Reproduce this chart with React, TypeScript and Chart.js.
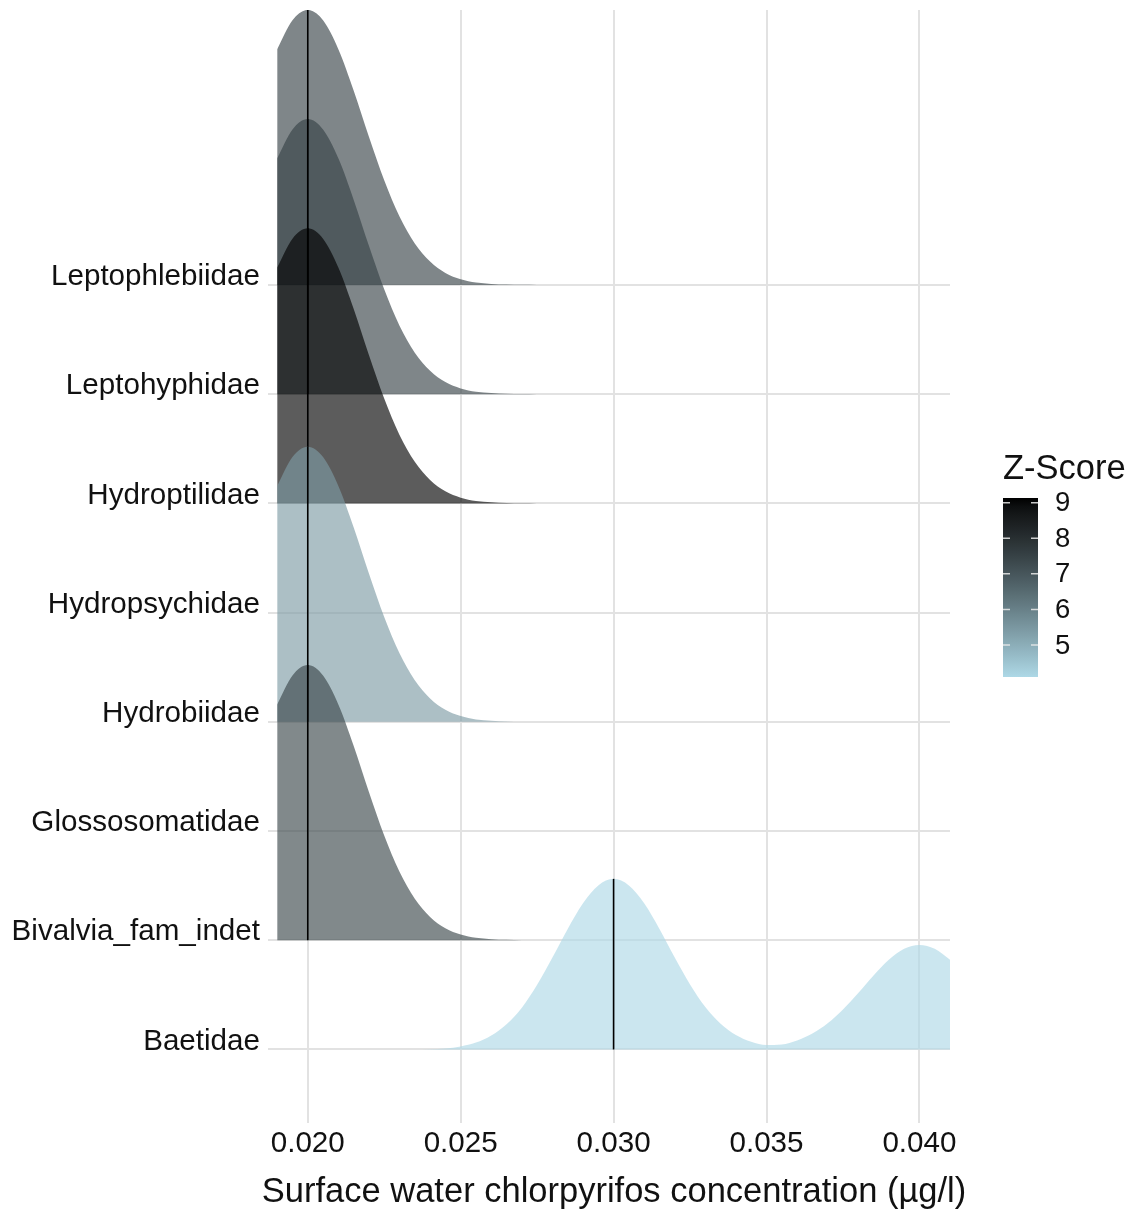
import React, { useEffect, useRef } from "react";
import { Chart, registerables } from "chart.js";

Chart.register(...registerables);

// ---------------- data ----------------
const taxa = [
  "Baetidae",
  "Bivalvia_fam_indet",
  "Glossosomatidae",
  "Hydrobiidae",
  "Hydropsychidae",
  "Hydroptilidae",
  "Leptohyphidae",
  "Leptophlebiidae",
];

// Z-score of each taxon (null = no ridge drawn)
const zScores: (number | null)[] = [4.1, 7.4, null, 5.4, null, 9.13, 7.5, 7.5];

// concentration of the median line per taxon (µg/l)
const medianConc: (number | null)[] = [0.03, 0.02, null, 0.02, null, 0.02, 0.02, 0.02];

// x positions at which the ridge heights were read (µg/l)
const concentrationGrid = [
  0.019, 0.0195, 0.02, 0.0205, 0.021, 0.0215, 0.022, 0.0225, 0.023, 0.0235,
  0.024, 0.0245, 0.025, 0.0255, 0.026, 0.0265, 0.027, 0.0275, 0.028, 0.0285,
  0.029, 0.0295, 0.03, 0.0305, 0.031, 0.0315, 0.032, 0.0325, 0.033, 0.0335,
  0.034, 0.0345, 0.035, 0.0355, 0.036, 0.0365, 0.037, 0.0375, 0.038, 0.0385,
  0.039, 0.0395, 0.04, 0.0405, 0.041,
];

// relative ridge heights (1 = tallest ridge)
const densityPeak020 = [
  0.857, 0.962, 1.0, 0.962, 0.857, 0.707, 0.539, 0.381, 0.249, 0.151,
  0.085, 0.044, 0.021, 0.009, 0.004, 0.0015, 0.0005, 0, 0, 0,
  0, 0, 0, 0, 0, 0, 0, 0, 0, 0,
  0, 0, 0, 0, 0, 0, 0, 0, 0, 0,
  0, 0, 0, 0, 0,
];

const densityBaetidae = [
  0, 0, 0, 0, 0, 0, 0, 0, 0, 0.0003,
  0.0012, 0.004, 0.011, 0.025, 0.051, 0.092, 0.152, 0.235, 0.334, 0.438,
  0.531, 0.596, 0.62, 0.596, 0.531, 0.438, 0.334, 0.236, 0.154, 0.094,
  0.053, 0.028, 0.016, 0.018, 0.033, 0.058, 0.095, 0.145, 0.205, 0.269,
  0.326, 0.366, 0.38, 0.366, 0.326,
];

const ridgeDensities: (number[] | null)[] = [
  densityBaetidae,
  densityPeak020,
  null,
  densityPeak020,
  null,
  densityPeak020,
  densityPeak020,
  densityPeak020,
];

const xTickValues = [0.02, 0.025, 0.03, 0.035, 0.04];
const legendTickValues = [5, 6, 7, 8, 9];
const xTitle = "Surface water chlorpyrifos concentration (µg/l)";
const legendTitle = "Z-Score";

// ---------------- styling ----------------
const FONT = '"Liberation Sans", Arial, Helvetica, sans-serif';
const RIDGE_SCALE = 2.52;
const ALPHA = 0.64;
const GRID = "#e2e2e2";
const TEXT = "#111111";

// colour scale: lightblue -> black, interpolated in Lab
const LOW: [number, number, number] = [173, 216, 230];
const HIGH: [number, number, number] = [0, 0, 0];

function toLin(c: number) {
  c /= 255;
  return c <= 0.04045 ? c / 12.92 : Math.pow((c + 0.055) / 1.055, 2.4);
}
function fromLin(c: number) {
  const v = c <= 0.0031308 ? 12.92 * c : 1.055 * Math.pow(Math.max(c, 0), 1 / 2.4) - 0.055;
  return Math.round(Math.max(0, Math.min(1, v)) * 255);
}
function rgbToLab([r, g, b]: number[]) {
  const R = toLin(r), G = toLin(g), B = toLin(b);
  const X = (0.4124 * R + 0.3576 * G + 0.1805 * B) / 0.95047;
  const Y = 0.2126 * R + 0.7152 * G + 0.0722 * B;
  const Z = (0.0193 * R + 0.1192 * G + 0.9505 * B) / 1.08883;
  const f = (t: number) => (t > 0.008856 ? Math.cbrt(t) : 7.787 * t + 16 / 116);
  return [116 * f(Y) - 16, 500 * (f(X) - f(Y)), 200 * (f(Y) - f(Z))];
}
function labToRgb([L, a, b]: number[]) {
  const fy = (L + 16) / 116;
  const fx = fy + a / 500;
  const fz = fy - b / 200;
  const inv = (t: number) => (t * t * t > 0.008856 ? t * t * t : (t - 16 / 116) / 7.787);
  const X = inv(fx) * 0.95047, Y = inv(fy), Z = inv(fz) * 1.08883;
  const R = 3.2406 * X - 1.5372 * Y - 0.4986 * Z;
  const G = -0.9689 * X + 1.8758 * Y + 0.0415 * Z;
  const B = 0.0557 * X - 0.204 * Y + 1.057 * Z;
  return [fromLin(R), fromLin(G), fromLin(B)];
}
const LOW_LAB = rgbToLab(LOW);
const HIGH_LAB = rgbToLab(HIGH);
const zVals = zScores.filter((z): z is number => z != null);
const Z_MIN = Math.min(...zVals);
const Z_MAX = Math.max(...zVals);
function zColor(z: number) {
  const t = Math.max(0, Math.min(1, (z - Z_MIN) / (Z_MAX - Z_MIN)));
  return labToRgb(LOW_LAB.map((v, i) => v + (HIGH_LAB[i] - v) * t));
}

// draws the x-axis title (without width squeezing) and the Z-score colourbar
const annotationPlugin = {
  id: "ridgeAnnotations",
  afterDraw(chart: any) {
    const ctx: CanvasRenderingContext2D = chart.ctx;
    ctx.save();

    // x axis title
    ctx.fillStyle = TEXT;
    ctx.textAlign = "center";
    ctx.textBaseline = "alphabetic";
    ctx.font = `34.5px ${FONT}`;
    ctx.fillText(xTitle, 614, 1202);

    // colourbar
    const x0 = 1003, w = 35, yTop = 498, yBot = 677;
    ctx.textAlign = "left";
    ctx.font = `34.5px ${FONT}`;
    ctx.fillText(legendTitle, x0, 479);

    const grad = ctx.createLinearGradient(0, yBot, 0, yTop);
    for (let s = 0; s <= 20; s++) {
      const t = s / 20;
      const [r, g, b] = zColor(Z_MIN + t * (Z_MAX - Z_MIN));
      grad.addColorStop(t, `rgb(${r},${g},${b})`);
    }
    ctx.fillStyle = grad;
    ctx.fillRect(x0, yTop, w, yBot - yTop);

    ctx.strokeStyle = "rgba(235,235,235,0.85)";
    ctx.lineWidth = 1.5;
    ctx.font = `27.5px ${FONT}`;
    ctx.textBaseline = "middle";
    legendTickValues.forEach((z) => {
      const y = yBot - ((z - Z_MIN) / (Z_MAX - Z_MIN)) * (yBot - yTop);
      ctx.beginPath();
      ctx.moveTo(x0, y);
      ctx.lineTo(x0 + 7, y);
      ctx.moveTo(x0 + w - 7, y);
      ctx.lineTo(x0 + w, y);
      ctx.stroke();
      ctx.fillStyle = TEXT;
      ctx.fillText(String(z), 1055, y + 1);
    });
    ctx.restore();
  },
};

export default function App() {
  const ref = useRef<HTMLCanvasElement>(null);

  useEffect(() => {
    const canvas = ref.current;
    if (!canvas) return;
    const datasets: any[] = [];
    taxa.forEach((name, i) => {
      const dens = ridgeDensities[i];
      const z = zScores[i];
      const m = medianConc[i];
      if (!dens || z == null) return;
      const base = i + 1;
      const [r, g, b] = zColor(z);
      datasets.push({
        label: name,
        data: concentrationGrid.map((x, k) => ({ x, y: base + dens[k] * RIDGE_SCALE })),
        fill: { value: base },
        backgroundColor: `rgba(${r},${g},${b},${ALPHA})`,
        borderColor: "rgba(0,0,0,0)",
        borderWidth: 0,
        pointRadius: 0,
        cubicInterpolationMode: "monotone",
        order: base + 0.5,
      });
      if (m != null) {
        const k = concentrationGrid.findIndex((v) => Math.abs(v - m) < 1e-9);
        datasets.push({
          label: name + " median",
          data: [
            { x: m, y: base },
            { x: m, y: base + dens[k] * RIDGE_SCALE },
          ],
          fill: false,
          borderColor: "#000000",
          borderWidth: 1.6,
          pointRadius: 0,
          order: base,
        });
      }
    });

    const chart = new Chart(canvas, {
      type: "line",
      data: { datasets },
      plugins: [annotationPlugin],
      options: {
        responsive: false,
        animation: false,
        devicePixelRatio: 1,
        events: [],
        layout: { padding: { top: 10, right: 182, bottom: 0, left: 0 } },
        plugins: {
          legend: { display: false },
          tooltip: { enabled: false },
        },
        scales: {
          x: {
            type: "linear",
            min: 0.0187,
            max: 0.041,
            afterBuildTicks: (s: any) => {
              s.ticks = xTickValues.map((v) => ({ value: v }));
            },
            afterFit: (s: any) => {
              s.height = 90;
              s.paddingLeft = 0;
              s.paddingRight = 0;
            },
            ticks: {
              callback: (v: any) => Number(v).toFixed(3),
              font: { family: FONT, size: 29.6 },
              color: TEXT,
              padding: 3,
              maxRotation: 0,
              autoSkip: false,
            },
            grid: { color: GRID, lineWidth: 2, drawTicks: false },
            border: { display: false },
            title: { display: false },
          },
          y: {
            type: "linear",
            min: 0.327,
            max: 10.518,
            afterBuildTicks: (s: any) => {
              s.ticks = taxa.map((_, i) => ({ value: i + 1 }));
            },
            afterFit: (s: any) => {
              s.width = 268;
              s.paddingTop = 0;
              s.paddingBottom = 0;
            },
            ticks: {
              callback: (v: any) => taxa[Math.round(Number(v)) - 1] ?? "",
              font: { family: FONT, size: 29.6 },
              color: TEXT,
              padding: 8,
              labelOffset: -8,
              autoSkip: false,
            },
            grid: { color: GRID, lineWidth: 2, drawTicks: false },
            border: { display: false },
          },
        },
      },
    } as any);

    return () => chart.destroy();
  }, []);

  return (
    <div style={{ position: "absolute", left: 0, top: 0, width: 1132, height: 1213, background: "#ffffff" }}>
      <canvas ref={ref} width={1132} height={1213} style={{ display: "block" }} />
    </div>
  );
}
